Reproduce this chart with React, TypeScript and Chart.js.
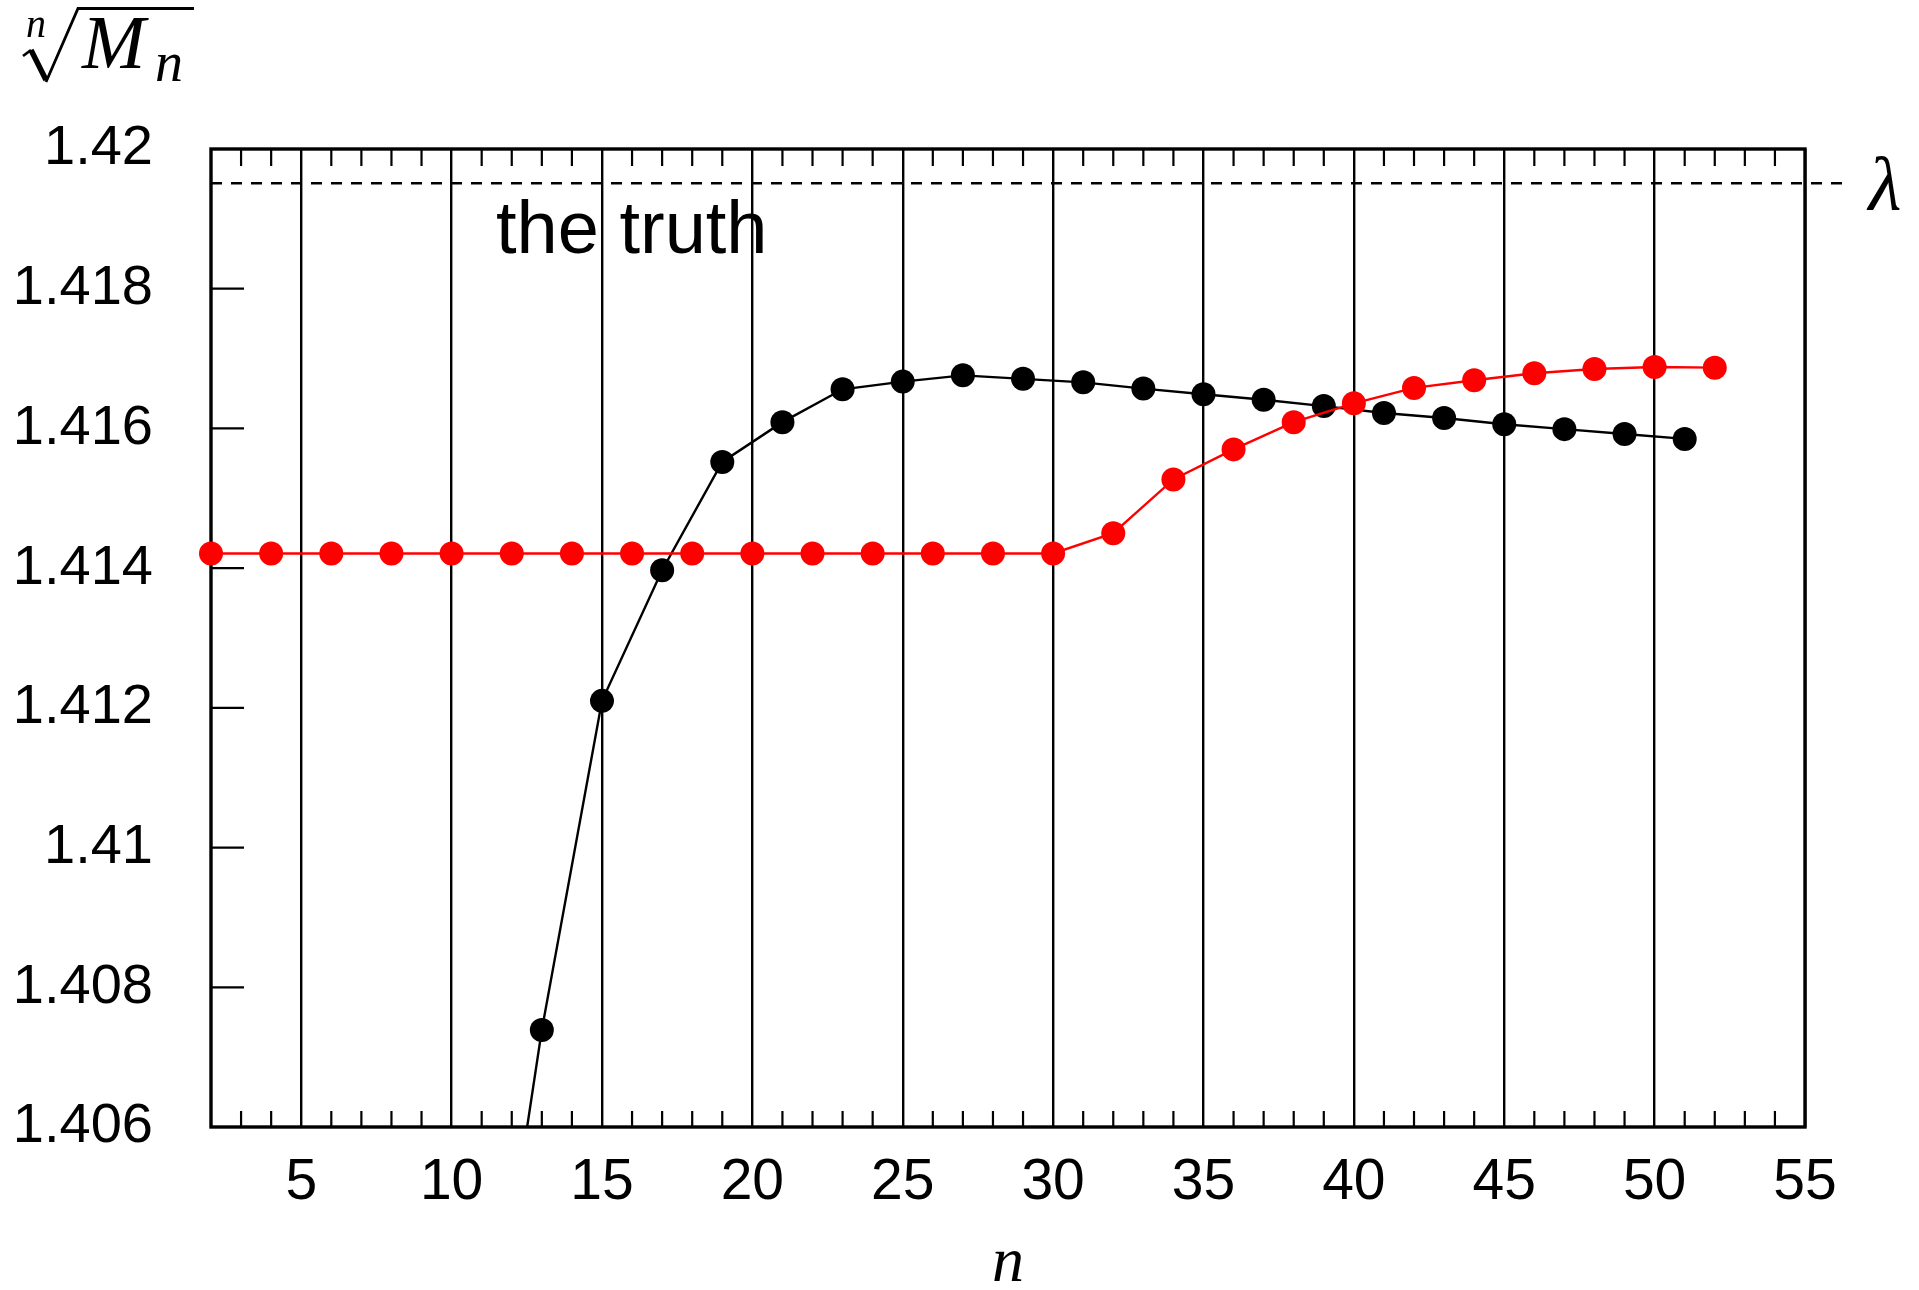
import React, { useEffect, useRef } from "react";
import { Chart, registerables } from "chart.js";

Chart.register(...registerables);

// ---- data ----
const X_MIN = 2;
const X_MAX = 55;
const Y_MIN = 1.406;
const Y_MAX = 1.42;
const X_TICKS = [5, 10, 15, 20, 25, 30, 35, 40, 45, 50, 55];
const Y_TICKS = [1.406, 1.408, 1.41, 1.412, 1.414, 1.416, 1.418, 1.42];

const LAMBDA = 1.41951; // "the truth"

const BLACK_N = [11, 13, 15, 17, 19, 21, 23, 25, 27, 29, 31, 33, 35, 37, 39, 41, 43, 45, 47, 49, 51];
const BLACK_VALUES = [
  1.4017, 1.40739, 1.4121, 1.41397, 1.41552, 1.41609, 1.41656, 1.41667, 1.41676, 1.41671,
  1.41666, 1.41657, 1.41649, 1.41641, 1.41632, 1.41622, 1.41615, 1.41606, 1.41599, 1.41592, 1.41585,
];

const RED_N = [2, 4, 6, 8, 10, 12, 14, 16, 18, 20, 22, 24, 26, 28, 30, 32, 34, 36, 38, 40, 42, 44, 46, 48, 50, 52];
const RED_VALUES = [
  1.41421, 1.41421, 1.41421, 1.41421, 1.41421, 1.41421, 1.41421, 1.41421, 1.41421, 1.41421,
  1.41421, 1.41421, 1.41421, 1.41421, 1.41421, 1.4145, 1.41527, 1.4157, 1.41609, 1.41636,
  1.41658, 1.41669, 1.41679, 1.41685, 1.41688, 1.41687,
];

const TICK_FONT = "Liberation Sans";
const MATH_FONT = "Liberation Serif";

const minorX: number[] = [];
for (let n = X_MIN + 1; n < X_MAX; n++) if (n % 5 !== 0) minorX.push(n);

const decor = {
  id: "decor",
  beforeDatasetsDraw(chart: any) {
    const { ctx, chartArea: a, scales } = chart;
    const x = scales.x;
    const y = scales.y;
    ctx.save();
    ctx.strokeStyle = "#000";
    ctx.lineWidth = 2.2;
    ctx.beginPath();
    for (const n of minorX) {
      const px = x.getPixelForValue(n);
      ctx.moveTo(px, a.top);
      ctx.lineTo(px, a.top + 17);
      ctx.moveTo(px, a.bottom);
      ctx.lineTo(px, a.bottom - 16);
    }
    for (const v of Y_TICKS) {
      const py = y.getPixelForValue(v);
      ctx.moveTo(a.left, py);
      ctx.lineTo(a.left + 33, py);
    }
    ctx.stroke();
    // lambda dashed line
    const ly = y.getPixelForValue(LAMBDA);
    ctx.lineWidth = 2.4;
    ctx.setLineDash([11, 9]);
    ctx.beginPath();
    ctx.moveTo(a.left, ly);
    ctx.lineTo(a.right + 42, ly);
    ctx.stroke();
    ctx.setLineDash([]);
    // frame
    ctx.lineWidth = 3.4;
    ctx.strokeRect(a.left, a.top, a.right - a.left, a.bottom - a.top);
    ctx.restore();
  },
  afterDraw(chart: any) {
    const { ctx, chartArea: a, scales } = chart;
    const y = scales.y;
    ctx.save();
    ctx.fillStyle = "#000";
    ctx.textBaseline = "alphabetic";
    // the truth
    ctx.font = `74px "${TICK_FONT}"`;
    ctx.textAlign = "left";
    ctx.fillText("the truth", a.left + 285, a.top + 104);
    // lambda
    ctx.font = `italic 76px "${MATH_FONT}"`;
    ctx.textAlign = "center";
    ctx.fillText("λ", a.right + 80, y.getPixelForValue(LAMBDA) + 27);
    // title: n-th root of M_n
    ctx.textAlign = "left";
    ctx.font = `italic 40px "${MATH_FONT}"`;
    ctx.fillText("n", 26, 37);
    ctx.font = `italic 76px "${MATH_FONT}"`;
    ctx.fillText("M", 82, 68);
    ctx.font = `italic 56px "${MATH_FONT}"`;
    ctx.fillText("n", 155, 81);
    // radical
    ctx.strokeStyle = "#000";
    ctx.lineJoin = "miter";
    ctx.lineWidth = 2.8;
    ctx.beginPath();
    ctx.moveTo(23, 56);
    ctx.lineTo(31, 50);
    ctx.stroke();
    ctx.lineWidth = 5.5;
    ctx.beginPath();
    ctx.moveTo(31, 50);
    ctx.lineTo(46, 80);
    ctx.stroke();
    ctx.lineWidth = 2.8;
    ctx.beginPath();
    ctx.moveTo(46, 82);
    ctx.lineTo(78, 8.5);
    ctx.lineTo(194, 8.5);
    ctx.stroke();
    ctx.restore();
  },
};

export default function App() {
  const ref = useRef<HTMLCanvasElement | null>(null);
  useEffect(() => {
    const canvas = ref.current;
    if (!canvas) return;
    const chart = new Chart(canvas, {
      type: "line",
      data: {
        datasets: [
          {
            label: "red",
            data: RED_N.map((n, i) => ({ x: n, y: RED_VALUES[i] })),
            borderColor: "#ff0000",
            backgroundColor: "#ff0000",
            borderWidth: 2.4,
            pointRadius: 12,
            pointBorderWidth: 0,
            pointBackgroundColor: "#ff0000",
            tension: 0,
            clip: false as any,
          },
          {
            label: "black",
            data: BLACK_N.map((n, i) => ({ x: n, y: BLACK_VALUES[i] })),
            borderColor: "#000",
            backgroundColor: "#000",
            borderWidth: 2.4,
            pointRadius: 12,
            pointBorderWidth: 0,
            pointBackgroundColor: "#000",
            tension: 0,
            clip: { left: 30, right: 30, top: 30, bottom: 0 } as any,
          },
        ],
      },
      options: {
        animation: false,
        responsive: false,
        devicePixelRatio: 1,
        layout: { padding: { left: 0, right: 114, top: 149, bottom: 0 } },
        plugins: { legend: { display: false }, tooltip: { enabled: false } },
        scales: {
          x: {
            type: "linear",
            min: X_MIN,
            max: X_MAX,
            afterBuildTicks: (s: any) => {
              s.ticks = X_TICKS.map((v) => ({ value: v }));
            },
            afterFit: (s: any) => {
              s.height = 163;
            },
            grid: { display: true, color: "#000", lineWidth: 2.4, drawTicks: false },
            border: { display: false },
            ticks: {
              color: "#000",
              font: { family: TICK_FONT, size: 57 },
              padding: 22,
              maxRotation: 0,
              autoSkip: false,
              callback: (v: any) => String(v),
            },
            title: {
              display: true,
              text: "n",
              color: "#000",
              font: { family: MATH_FONT, size: 64, style: "italic", lineHeight: 0.8 },
              padding: 0,
            },
          },
          y: {
            type: "linear",
            min: Y_MIN,
            max: Y_MAX,
            afterBuildTicks: (s: any) => {
              s.ticks = Y_TICKS.map((v) => ({ value: v }));
            },
            afterFit: (s: any) => {
              s.width = 211;
            },
            grid: { display: false, drawTicks: false },
            border: { display: false },
            ticks: {
              color: "#000",
              font: { family: TICK_FONT, size: 56 },
              padding: 58,
              autoSkip: false,
              callback: (v: any) => String(Number(Number(v).toFixed(3))),
            },
          },
        },
      },
      plugins: [decor],
    });
    return () => chart.destroy();
  }, []);
  return (
    <div style={{ position: "absolute", left: 0, top: 0, width: 1919, height: 1290, background: "#fff" }}>
      <canvas ref={ref} width={1919} height={1290} style={{ display: "block" }} />
    </div>
  );
}
